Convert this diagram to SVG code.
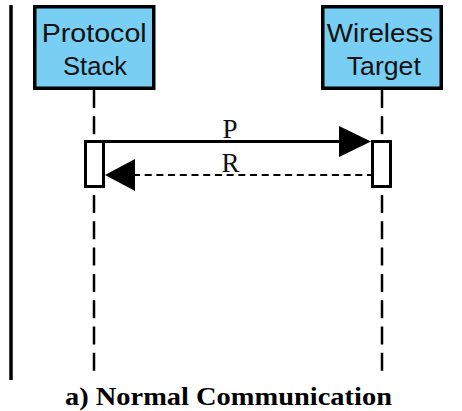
<svg xmlns="http://www.w3.org/2000/svg" width="462" height="411" viewBox="0 0 462 411">
  <defs>
    <style>
      .box { fill: #78CEF3; stroke: #000; stroke-width: 3.5; }
      .lbl { font-family: "Liberation Sans", Arial, sans-serif; font-size: 26px; fill: #111; text-anchor: middle; }
      .life { stroke: #000; stroke-width: 2.5; stroke-dasharray: 18 8.3; fill: none; }
      .act { fill: #fff; stroke: #000; stroke-width: 3; }
      .msg { font-family: "Liberation Serif", "Times New Roman", serif; font-size: 27px; fill: #111; text-anchor: middle; }
      .cap { font-family: "Liberation Serif", "Times New Roman", serif; font-size: 26px; font-weight: bold; fill: #000; text-anchor: middle; }
    </style>
  </defs>
  <rect width="462" height="411" fill="#fff"/>
  <line x1="11" y1="5" x2="11" y2="380" stroke="#000" stroke-width="3.5"/>

  <g id="protocol-stack">
    <rect class="box" x="34.75" y="6.75" width="119" height="81.5"/>
    <text class="lbl" x="94.2" y="42" textLength="105" lengthAdjust="spacingAndGlyphs">Protocol</text>
    <text class="lbl" x="95" y="74.5" textLength="64" lengthAdjust="spacingAndGlyphs">Stack</text>
  </g>
  <g id="wireless-target">
    <rect class="box" x="322.75" y="6.75" width="118.5" height="81.5"/>
    <text class="lbl" x="380" y="42" textLength="106.5" lengthAdjust="spacingAndGlyphs">Wireless</text>
    <text class="lbl" x="383.8" y="74.5" textLength="74" lengthAdjust="spacingAndGlyphs">Target</text>
  </g>

  <g id="lifelines">
    <line class="life" x1="94" y1="90" x2="94" y2="140"/>
    <line class="life" x1="94" y1="195" x2="94" y2="372"/>
    <line class="life" x1="382" y1="90" x2="382" y2="140"/>
    <line class="life" x1="382" y1="195" x2="382" y2="372"/>
  </g>

  <g id="connectors">
    <line x1="104" y1="141.5" x2="342" y2="141.5" stroke="#000" stroke-width="3"/>
    <polygon points="339,126 371,141.5 339,157" fill="#000"/>
    <line x1="133" y1="175" x2="371" y2="175" stroke="#000" stroke-width="2.2" stroke-dasharray="7 4.7"/>
    <polygon points="135,159 105,175 135,191" fill="#000"/>
    <text class="msg" x="230" y="138">P</text>
    <text class="msg" x="230.5" y="171.5">R</text>
  </g>

  <g id="activation-left">
    <rect class="act" x="85.5" y="141.5" width="18" height="45"/>
  </g>
  <g id="activation-right">
    <rect class="act" x="372.5" y="141.5" width="18" height="45"/>
  </g>

  <text class="cap" x="228.5" y="405" textLength="327" lengthAdjust="spacingAndGlyphs">a) Normal Communication</text>
</svg>
